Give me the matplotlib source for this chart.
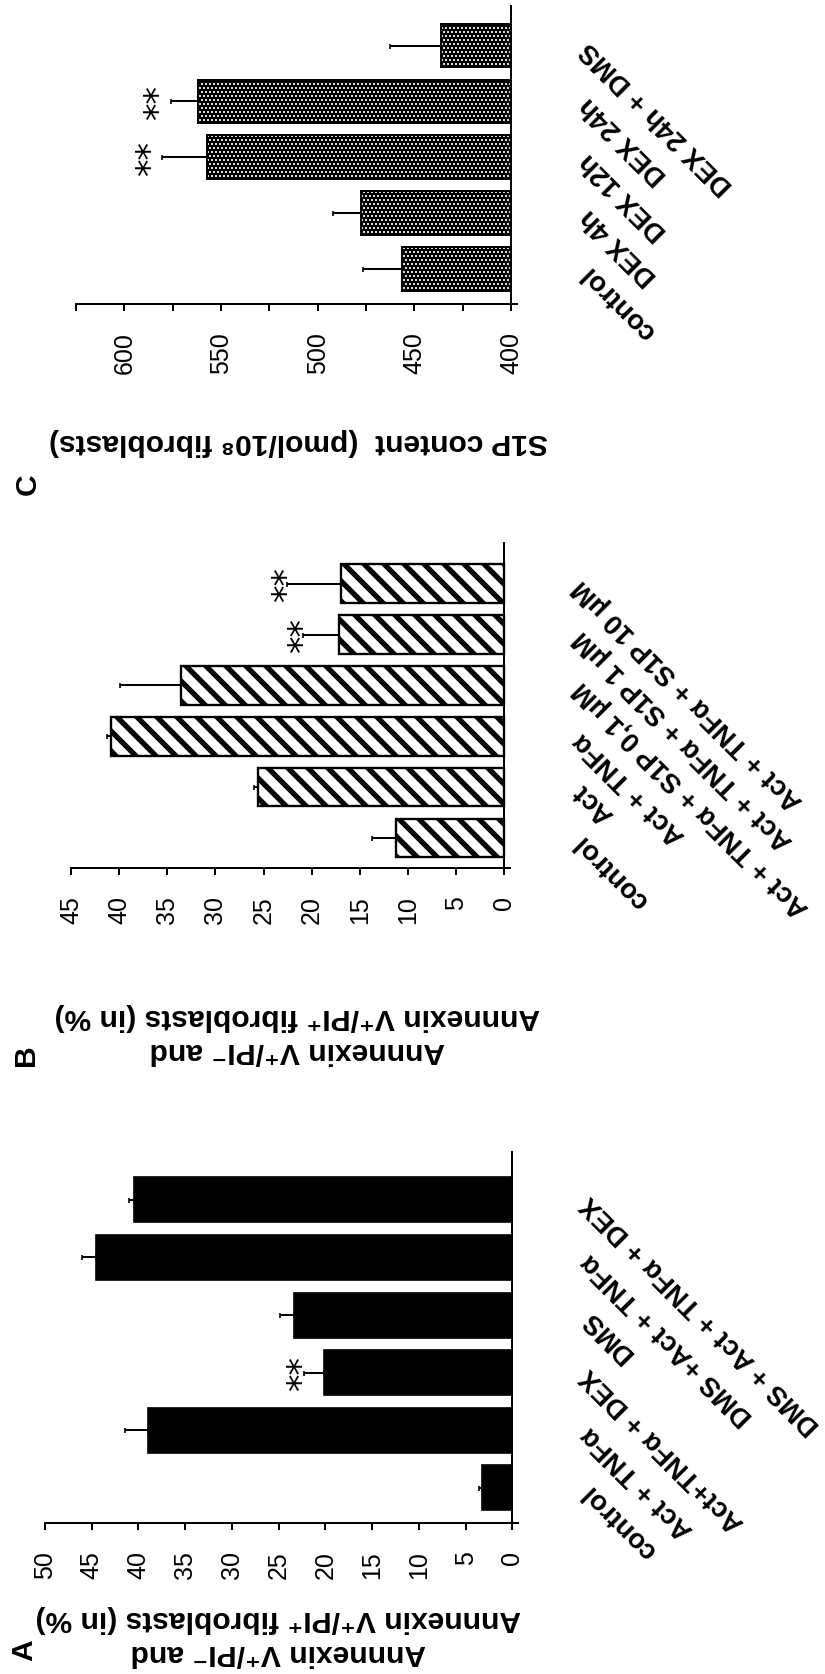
import numpy as np
import matplotlib
matplotlib.use("Agg")
import matplotlib.pyplot as plt

plt.rcParams['font.family'] = ['Liberation Sans', 'DejaVu Sans']

# Panel A - Annexin V / PI positive fibroblasts (black bars)
labels_A = ["control", "Act + TNFα", "Act+TNFα + DEX", "DMS",
            "DMS +Act + TNFα", "DMS + Act + TNFα + DEX"]
values_A = [3.2, 39.0, 20.2, 23.4, 44.5, 40.5]
errors_A = [0.4, 2.4, 2.1, 1.5, 1.5, 0.5]
stars_A = ["", "", "**", "", "", ""]
ticks_A = [0, 5, 10, 15, 20, 25, 30, 35, 40, 45, 50]

# Panel B - S1P rescue (striped bars)
labels_B = ["control", "Act", "Act + TNFα", "Act + TNFα + S1P 0,1 µM",
            "Act + TNFα + S1P 1 µM", "Act + TNFα + S1P 10 µM"]
values_B = [11.2, 25.6, 40.8, 33.6, 17.2, 17.0]
errors_B = [2.5, 0.4, 0.5, 6.3, 3.7, 5.6]
stars_B = ["", "", "", "", "**", "**"]
ticks_B = [0, 5, 10, 15, 20, 25, 30, 35, 40, 45]

# Panel C - S1P content (dotted bars)
labels_C = ["control", "DEX 4h", "DEX 12h", "DEX 24h", "DEX 24h + DMS"]
values_C = [456.5, 477.6, 557.3, 562.0, 436.5]
errors_C = [20.0, 14.3, 23.0, 14.0, 26.0]
stars_C = ["", "", "**", "**", ""]
ticks_C = [400, 425, 450, 475, 500, 525, 550, 575, 600, 625]
ticklabels_C = ["400", "", "450", "", "500", "", "550", "", "600", ""]

ylabel_AB = "Annnexin V⁺/PI⁻ and\nAnnnexin V⁺/PI⁺ fibroblasts (in %)"
ylabel_C = "S1P content  (pmol/10⁸ fibroblasts)"

W, H, DPI = 825, 1674, 120
fig = plt.figure(figsize=(W / DPI, H / DPI), dpi=DPI)


def box(left, right, top, bottom):
    # pixel box -> figure fraction
    return [left / W, 1 - bottom / H, (right - left) / W, (bottom - top) / H]


def set_hatch_lw(bars, lw):
    for b in bars:
        if hasattr(b, "set_hatch_linewidth"):
            b.set_hatch_linewidth(lw)


def draw_panel(ax, labels, values, errors, stars, ticks, ticklabels,
               base, xlim, ylim, style, star_off, height):
    y = np.arange(len(values))
    widths = np.array(values) - base
    if style == "solid":
        ax.barh(y, widths, left=base, height=height, color="black",
                edgecolor="black", linewidth=1)
    elif style == "stripes":
        plt.rcParams['hatch.linewidth'] = 3.2
        bars = ax.barh(y, widths, left=base, height=height, facecolor="white",
                       edgecolor="black", linewidth=1.4, hatch="\\\\")
        set_hatch_lw(bars, 3.2)
    else:
        plt.rcParams['hatch.linewidth'] = 0.8
        bars = ax.barh(y, widths, left=base, height=height, facecolor="black",
                       edgecolor="white", linewidth=0, hatch=".....")
        set_hatch_lw(bars, 0.8)
        ax.barh(y, widths, left=base, height=height, fill=False,
                edgecolor="black", linewidth=1.2)

    ax.errorbar(values, y, xerr=[np.zeros(len(values)), errors], fmt="none",
                ecolor="black", elinewidth=1.2, capsize=1.5, capthick=1.0, zorder=3)

    for i, s in enumerate(stars):
        if s:
            ax.text(values[i] + errors[i] + star_off, y[i], s, rotation=90,
                    ha="center", va="center", fontsize=21,
                    family=["DejaVu Sans"])

    ax.set_xlim(*xlim)
    ax.set_ylim(*ylim)
    ax.spines["top"].set_visible(False)
    ax.spines["left"].set_visible(False)
    ax.spines["right"].set_position(("data", base))
    ax.spines["right"].set_linewidth(1.2)
    ax.spines["bottom"].set_linewidth(1.2)

    ax.set_xticks(ticks)
    ax.set_xticklabels(ticklabels, rotation=90, ha="center", va="top", fontsize=15)
    ax.tick_params(axis="x", direction="out", length=4, width=1.2, pad=13)

    ax.yaxis.tick_right()
    ax.set_yticks(y)
    ax.set_yticklabels(labels, rotation=135, rotation_mode="anchor", ha="right",
                       va="center", fontsize=16.5, fontweight="bold")
    ax.tick_params(axis="y", length=0, pad=44)


axC = fig.add_axes(box(76, 517, 6, 304))
draw_panel(axC, labels_C, values_C, errors_C, stars_C, ticks_C, ticklabels_C,
           400, (625, 397), (-0.63, 4.71), "dots", 6, 0.78)

axB = fig.add_axes(box(71, 510, 543, 868))
draw_panel(axB, labels_B, values_B, errors_B, stars_B, ticks_B,
           [str(t) for t in ticks_B], 0, (45, -0.6), (-0.59, 5.8), "stripes", 0.0, 0.76)

axA = fig.add_axes(box(45, 518, 1152, 1523))
draw_panel(axA, labels_A, values_A, errors_A, stars_A, ticks_A,
           [str(t) for t in ticks_A], 0, (50, -0.6), (-0.61, 5.83), "solid", 0.25, 0.78)

# value-axis titles (upside down, as in the rotated page)
fig.text(298 / W, 1 - 442 / H, ylabel_C, rotation=180, ha="center", va="center",
         fontsize=18, fontweight="bold")
fig.text(297 / W, 1 - 1034 / H, ylabel_AB, rotation=180, ha="center", va="center",
         fontsize=18, fontweight="bold", linespacing=1.25)
fig.text(278 / W, 1 - 1636 / H, ylabel_AB, rotation=180, ha="center", va="center",
         fontsize=18, fontweight="bold", linespacing=1.25)

# panel letters
for letter, px, py in [("C", 28, 484), ("B", 26, 1055), ("A", 24, 1650)]:
    fig.text(px / W, 1 - py / H, letter, rotation=90, ha="center", va="center",
             fontsize=18, fontweight="bold")

fig.savefig("out.png", dpi=DPI, facecolor="white")
